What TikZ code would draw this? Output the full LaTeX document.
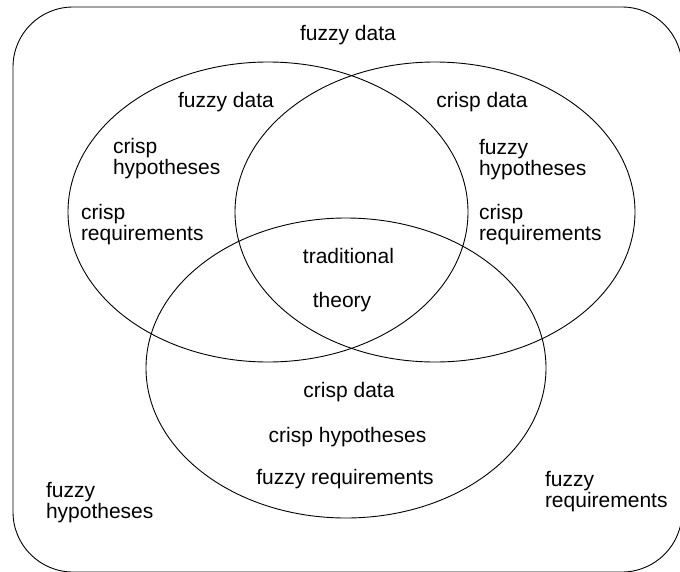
\documentclass[tikz,border=0pt]{standalone}
\usepackage{fontspec}
\usetikzlibrary{shapes.geometric}
\setmainfont{Liberation Sans}
\tikzset{
  outline/.style={draw=black, line width=0.9pt},
  setshape/.style={outline, ellipse, minimum width=400pt, minimum height=300pt, inner sep=0pt},
  lbl/.style={inner sep=0pt, outer sep=0pt, font=\fontsize{21}{21}\selectfont},
  lblc/.style={lbl, anchor=base},
  lbll/.style={lbl, anchor=base west, align=left},
}
\begin{document}
\begin{tikzpicture}[x=1pt,y=-1pt]
\useasboundingbox (0,0) rectangle (680,571);
% universe
\draw[outline, rounded corners=60pt] (13,7) rectangle (682,572);
% ellipses
\node[setshape] (A) at (268,212) {};
\node[setshape] (B) at (435,212) {};
\node[setshape] (C) at (346,368) {};
% labels
\node[lblc] (u1) at (348,40) {fuzzy data};
\node[lblc] (l1) at (226,107) {fuzzy data};
\node[lbll] (l2) at (113,174) {crisp\\hypotheses};
\node[lbll] (l3) at (81,240) {crisp\\requirements};
\node[lblc] (r1) at (482,107) {crisp data};
\node[lbll] (r2) at (479,175) {fuzzy\\hypotheses};
\node[lbll] (r3) at (479,240) {crisp\\requirements};
\node[lblc] (c1) at (348.5,263) {traditional};
\node[lblc] (c2) at (342,307) {theory};
\node[lblc] (b1) at (349,397) {crisp data};
\node[lblc] (b2) at (347.5,442) {crisp hypotheses};
\node[lblc] (b3) at (345,484) {fuzzy requirements};
\node[lbll] (o1) at (46,518) {fuzzy\\hypotheses};
\node[lbll] (o2) at (545,507) {fuzzy\\requirements};
\end{tikzpicture}
\end{document}
